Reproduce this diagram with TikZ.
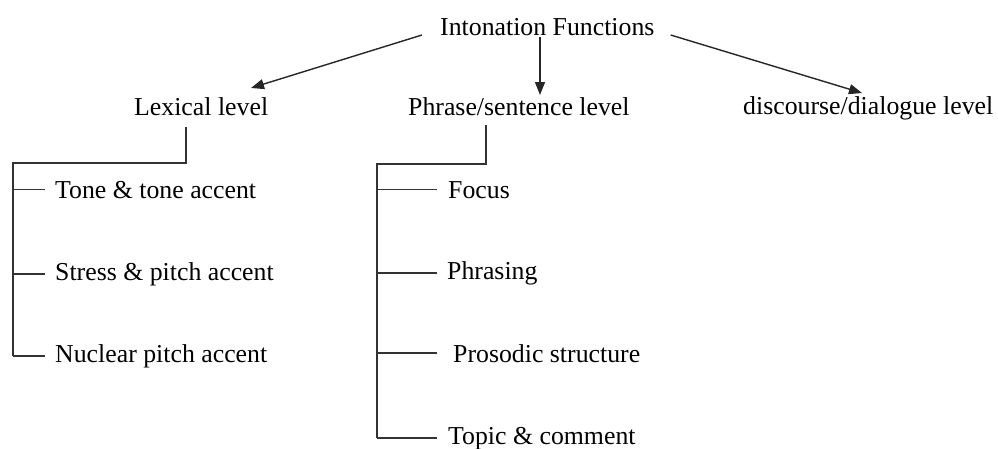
\documentclass[tikz,border=0pt]{standalone}
\usepackage{fontspec}
\setmainfont{Liberation Serif}
\usetikzlibrary{arrows.meta,calc}
\begin{document}
\begin{tikzpicture}[x=1pt,y=-1pt,
  lbl/.style={inner sep=0pt, anchor=base west, font=\fontsize{25.8}{30}\selectfont},
  link/.style={draw=black!85, line width=1.4pt, -{Triangle[length=13pt,width=10pt]}},
  tree/.style={draw=black!80, line width=1.4pt}]
\useasboundingbox (0,0) rectangle (998,448);

% top level and the three levels
\node[lbl] (root)  at (440,35)  {Intonation Functions};
\node[lbl] (lex)   at (134,115) {Lexical level};
\node[lbl] (phr)   at (408,115) {Phrase/sentence level};
\node[lbl] (disc)  at (743,114) {discourse/dialogue level};

% lexical items
\node[lbl] (tone)  at (55,198)  {Tone \& tone accent};
\node[lbl] (stress) at (55,280) {Stress \& pitch accent};
\node[lbl] (nuc)   at (55,362)  {Nuclear pitch accent};

% phrase/sentence items
\node[lbl] (focus) at (448,198) {Focus};
\node[lbl] (phrs)  at (447,279) {Phrasing};
\node[lbl] (pros)  at (453,362) {Prosodic structure};
\node[lbl] (topic) at (448,444) {Topic \& comment};

% arrows from the root
\draw[link] ($(root.base west)+(-18,0)$) -- ($(lex.base west)+(117,-27)$);
\draw[link] ($(root.base west)+(100,2)$) -- ($(phr.base west)+(132,-20)$);
\draw[link] ($(root.base east)+(16,0)$) -- ($(disc.base west)+(119,-21)$);

% lexical bracket
\coordinate (ltop) at ($(lex.base west)+(52,12)$);
\coordinate (lcorner) at (13,163);
\draw[tree] (ltop) |- (lcorner) -- (lcorner |- nuc.west);
\foreach \n in {tone,stress,nuc}
  \draw[tree] (lcorner |- \n.west) -- ([xshift=-10pt]\n.west);

% phrase/sentence bracket
\coordinate (ptop) at ($(phr.base west)+(78,10)$);
\coordinate (pcorner) at (377,164);
\draw[tree] (ptop) |- (pcorner) -- (pcorner |- topic.west);
\foreach \n/\g in {focus/11,phrs/10,pros/16,topic/11}
  \draw[tree] (pcorner |- \n.west) -- ([xshift=-\g pt]\n.west);
\end{tikzpicture}
\end{document}
